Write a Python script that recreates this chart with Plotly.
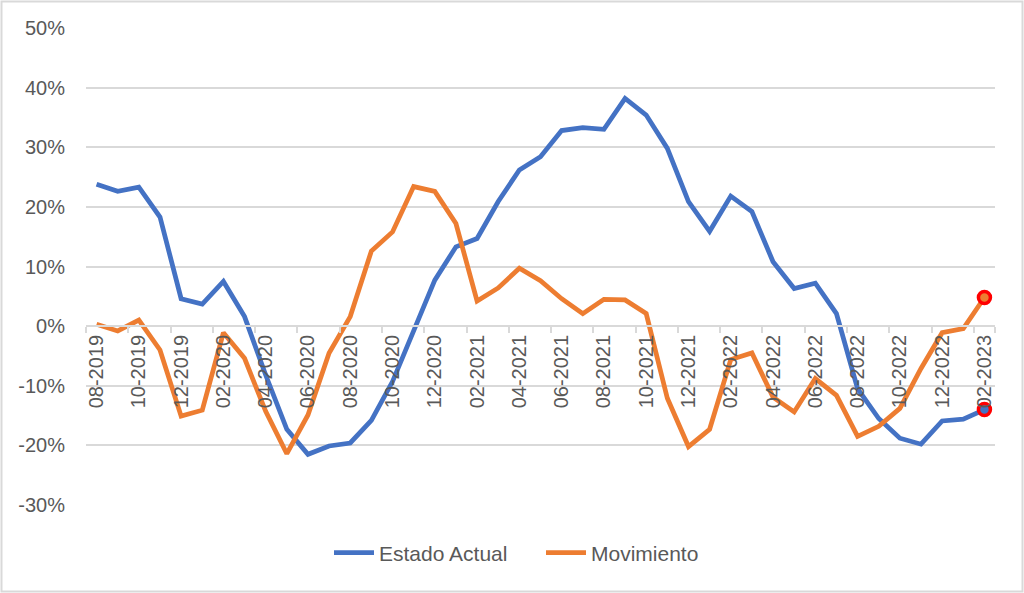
import plotly.graph_objects as go

months = ["08-2019", "09-2019", "10-2019", "11-2019", "12-2019",
          "01-2020", "02-2020", "03-2020", "04-2020", "05-2020", "06-2020",
          "07-2020", "08-2020", "09-2020", "10-2020", "11-2020", "12-2020",
          "01-2021", "02-2021", "03-2021", "04-2021", "05-2021", "06-2021",
          "07-2021", "08-2021", "09-2021", "10-2021", "11-2021", "12-2021",
          "01-2022", "02-2022", "03-2022", "04-2022", "05-2022", "06-2022",
          "07-2022", "08-2022", "09-2022", "10-2022", "11-2022", "12-2022",
          "01-2023", "02-2023"]

estado_actual = [23.8, 22.6, 23.3, 18.3, 4.6, 3.7, 7.5, 1.6, -8.2, -17.3, -21.5,
                 -20.1, -19.6, -15.8, -9.3, -0.7, 7.7, 13.3, 14.7, 20.9, 26.2,
                 28.4, 32.8, 33.3, 33.0, 38.2, 35.4, 29.8, 20.9, 15.9, 21.8,
                 19.2, 10.8, 6.3, 7.2, 2.1, -10.5, -15.5, -18.8, -19.8, -15.9,
                 -15.6, -14.0]

movimiento = [0.3, -0.8, 1.0, -4.0, -15.1, -14.1, -1.1, -5.4, -14.3, -21.4, -14.9,
              -4.5, 1.6, 12.6, 15.8, 23.4, 22.6, 17.2, 4.2, 6.4, 9.7, 7.6, 4.6,
              2.1, 4.5, 4.4, 2.1, -12.1, -20.2, -17.3, -5.6, -4.5, -11.9, -14.4,
              -8.8, -11.6, -18.5, -16.8, -13.8, -7.1, -1.1, -0.4, 4.8]

y_ticks = [-30, -20, -10, 0, 10, 20, 30, 40, 50]
y_tick_labels = ["-30%", "-20%", "-10%", "0%", "10%", "20%", "30%", "40%", "50%"]

BLUE = "#4472C4"
ORANGE = "#ED7D31"
GRID = "#D9D9D9"
TXT = "#595959"
FONT = "Liberation Sans"

W, H = 1024, 593
ML, MR, MT, MB = 86, 29, 28, 88

fig = go.Figure()
fig.add_trace(go.Scatter(x=months, y=estado_actual, mode="lines", name="Estado Actual",
                         line=dict(color=BLUE, width=4.75)))
fig.add_trace(go.Scatter(x=months, y=movimiento, mode="lines", name="Movimiento",
                         line=dict(color=ORANGE, width=4.75)))
# highlighted last points
fig.add_trace(go.Scatter(x=[months[-1]], y=[estado_actual[-1]], mode="markers", showlegend=False,
                         marker=dict(size=12, color=BLUE, line=dict(color="#FF0000", width=3.5))))
fig.add_trace(go.Scatter(x=[months[-1]], y=[movimiento[-1]], mode="markers", showlegend=False,
                         marker=dict(size=12, color=ORANGE, line=dict(color="#FF0000", width=3.5))))

ymin, ymax = y_ticks[0], y_ticks[-1]
pw = W - ML - MR
ph = H - MT - MB

fig.update_layout(
    width=W, height=H,
    margin=dict(l=ML, r=MR, t=MT, b=MB, autoexpand=False),
    paper_bgcolor="white", plot_bgcolor="white",
    font=dict(family=FONT, size=20, color=TXT),
    showlegend=True,
    legend=dict(orientation="h", xref="paper", yref="paper",
                x=(541 - ML) / pw, xanchor="center",
                y=-(553 - (H - MB)) / ph, yanchor="middle",
                font=dict(family=FONT, size=21, color=TXT),
                entrywidth=157, entrywidthmode="pixels",
                itemwidth=40, tracegroupgap=0, bgcolor="rgba(0,0,0,0)"),
    xaxis=dict(type="category", categoryorder="array", categoryarray=months,
               range=[-0.5, len(months) - 0.5],
               anchor="free", position=(0 - ymin) / (ymax - ymin),
               showgrid=False, showline=True, linecolor=GRID, linewidth=1.5,
               ticks="outside", ticklen=6, tickcolor=GRID, tickwidth=1.5,
               tickson="boundaries", tickmode="array", tickvals=months[::2],
               tickangle=-90, tickfont=dict(family=FONT, size=20, color=TXT),
               zeroline=False, fixedrange=True, automargin=False),
    yaxis=dict(range=[ymin, ymax], tickmode="array", tickvals=y_ticks,
               ticktext=y_tick_labels,
               showgrid=True, gridcolor=GRID, gridwidth=1.5,
               zeroline=False, showline=False, ticks="",
               ticklabelstandoff=20, automargin=False,
               tickfont=dict(family=FONT, size=20, color=TXT), fixedrange=True),
    shapes=[dict(type="rect", xref="paper", yref="paper",
                 x0=(1.5 - ML) / pw, x1=(W - 1.5 - ML) / pw,
                 y0=-(MB - 1.5) / ph, y1=1 + (MT - 1.5) / ph,
                 line=dict(color=GRID, width=2), fillcolor="rgba(0,0,0,0)", layer="below")],
)

fig.write_html("out.html")
